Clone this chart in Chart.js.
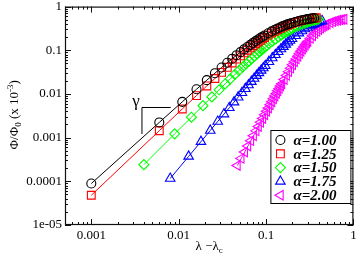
<!DOCTYPE html>
<html>
<head>
<meta charset="utf-8">
<script src="https://cdn.jsdelivr.net/npm/chart.js"></script>
<style>
  html, body { margin: 0; padding: 0; background: #fff; }
  canvas { display: block; }
</style>
</head>
<body>
<canvas id="myChart" width="360" height="256"></canvas>
<script>
const seriesNames = ["α=1.00", "α=1.25", "α=1.50", "α=1.75", "α=2.00"];

// alpha = 1.00
const xAlpha100 = [0.001, 0.006, 0.011, 0.016, 0.021, 0.026, 0.031, 0.036, 0.041, 0.046, 0.051, 0.056, 0.061, 0.066, 0.071, 0.076, 0.081, 0.086, 0.091, 0.096,
  0.106, 0.116, 0.126, 0.136, 0.146, 0.156, 0.166, 0.176, 0.186, 0.196, 0.216, 0.236, 0.256, 0.276, 0.296, 0.316, 0.336, 0.356];
const yAlpha100 = [8.9e-5, 2.23e-3, 6.6e-3, 0.0128, 0.0207, 0.0299, 0.0404, 0.0518, 0.0642, 0.0772, 0.0907, 0.1047, 0.1189, 0.1333, 0.1478, 0.1622, 0.1766, 0.1908, 0.2048, 0.2185,
  0.2451, 0.2704, 0.2941, 0.3164, 0.3371, 0.3564, 0.3743, 0.3908, 0.4061, 0.4204, 0.4456, 0.4673, 0.4859, 0.5019, 0.5158, 0.5279, 0.5385, 0.5478];

// alpha = 1.25
const xAlpha125 = [0.001, 0.006, 0.011, 0.016, 0.021, 0.026, 0.031, 0.036, 0.041, 0.046, 0.051, 0.056, 0.061, 0.066, 0.071, 0.076, 0.081, 0.086, 0.091, 0.096,
  0.106, 0.116, 0.126, 0.136, 0.146, 0.156, 0.166, 0.176, 0.186, 0.196, 0.216, 0.236, 0.256, 0.276, 0.296, 0.316, 0.336, 0.356, 0.376];
const yAlpha125 = [4.8e-5, 1.44e-3, 4.54e-3, 9.18e-3, 0.01525, 0.02261, 0.03115, 0.04075, 0.05127, 0.06259, 0.0746, 0.08716, 0.1002, 0.1135, 0.1271, 0.1409, 0.1547, 0.1685, 0.1822, 0.1958,
  0.2225, 0.2482, 0.2727, 0.2959, 0.3178, 0.3382, 0.3573, 0.3751, 0.3915, 0.4069, 0.4343, 0.4578, 0.478, 0.4955, 0.5106, 0.5237, 0.5352, 0.5452, 0.554];

// alpha = 1.50
const xAlpha150 = [0.004, 0.009, 0.014, 0.019, 0.024, 0.029, 0.034, 0.039, 0.044, 0.049, 0.054, 0.059, 0.064, 0.069, 0.074, 0.079, 0.084, 0.089, 0.094, 0.099,
  0.109, 0.119, 0.129, 0.139, 0.149, 0.159, 0.169, 0.179, 0.189, 0.199, 0.219, 0.239, 0.259, 0.279, 0.299, 0.319, 0.339, 0.359, 0.379, 0.399];
const yAlpha150 = [2.41e-4, 1.22e-3, 2.94e-3, 5.4e-3, 8.57e-3, 0.01244, 0.01698, 0.02215, 0.02794, 0.0343, 0.04119, 0.04857, 0.05641, 0.06466, 0.07327, 0.08221, 0.09144, 0.1009, 0.1106, 0.1204,
  0.1405, 0.1607, 0.181, 0.2012, 0.221, 0.2403, 0.2591, 0.2771, 0.2946, 0.3112, 0.3423, 0.3705, 0.3957, 0.4184, 0.4386, 0.4566, 0.4727, 0.4871, 0.5, 0.5115];

// alpha = 1.75
const xAlpha175 = [0.008, 0.013, 0.018, 0.023, 0.028, 0.033, 0.038, 0.043, 0.048, 0.053, 0.058, 0.063, 0.068, 0.073, 0.078, 0.083, 0.088, 0.093, 0.098,
  0.108, 0.118, 0.128, 0.138, 0.148, 0.158, 0.168, 0.178, 0.188, 0.198, 0.218, 0.238, 0.258, 0.278, 0.298, 0.318, 0.338, 0.358, 0.378, 0.398, 0.418, 0.438];
const yAlpha175 = [1.16e-4, 3.72e-4, 8.11e-4, 1.46e-3, 2.34e-3, 3.46e-3, 4.84e-3, 6.5e-3, 8.43e-3, 0.01066, 0.01319, 0.01601, 0.01914, 0.02256, 0.0263, 0.03033, 0.03466, 0.03928, 0.04419,
  0.0548, 0.06647, 0.07905, 0.09247, 0.1066, 0.1213, 0.1365, 0.1521, 0.1679, 0.1839, 0.2158, 0.2471, 0.2774, 0.3062, 0.3333, 0.3585, 0.3818, 0.4032, 0.4229, 0.4408, 0.4571, 0.472];

// alpha = 2.00
const xAlpha200 = [0.047, 0.052, 0.057, 0.062, 0.067, 0.072, 0.077, 0.082, 0.087, 0.092, 0.097, 0.102, 0.107, 0.112, 0.117, 0.122, 0.127, 0.132, 0.137, 0.142, 0.147, 0.152,
  0.162, 0.172, 0.182, 0.192, 0.202, 0.212, 0.222, 0.232, 0.242, 0.252, 0.262, 0.272, 0.282, 0.292, 0.302,
  0.322, 0.342, 0.362, 0.382, 0.402, 0.422, 0.442, 0.462, 0.482, 0.502, 0.542, 0.582, 0.622, 0.662, 0.702, 0.742, 0.782];
const yAlpha200 = [2.3e-4, 3.35e-4, 4.7e-4, 6.41e-4, 8.53e-4, 1.11e-3, 1.43e-3, 1.8e-3, 2.24e-3, 2.75e-3, 3.34e-3, 4.01e-3, 4.78e-3, 5.66e-3, 6.64e-3, 7.73e-3, 8.95e-3, 0.0103, 0.01179, 0.01342, 0.0152, 0.01714,
  0.02152, 0.0266, 0.03242, 0.03901, 0.0464, 0.05458, 0.06355, 0.0733, 0.08381, 0.09501, 0.1068, 0.1193, 0.1323, 0.1457, 0.1594,
  0.1875, 0.2159, 0.244, 0.2713, 0.2972, 0.3215, 0.344, 0.3646, 0.3834, 0.4003, 0.4292, 0.4522, 0.4704, 0.4849, 0.4963, 0.5055, 0.5128];

const xMajorTicks = [0.001, 0.01, 0.1, 1];
const xTickLabels = ["0.001", "0.01", "0.1", "1"];
const yMajorTicks = [0.00001, 0.0001, 0.001, 0.01, 0.1, 1];
const yTickLabels = ["1e-05", "0.0001", "0.001", "0.01", "0.1", "1"];

const fontFamily = "'Liberation Serif', 'Times New Roman', serif";
const seriesColors = ["#000000", "#ff0000", "#00ff00", "#0000ff", "#ff00ff"];
const seriesMarkers = ["circle", "rect", "rectRot", "triangle", "triangle"];
const seriesRotation = [0, 0, 0, 0, -90];
const seriesRadius = [4.5, 5.5, 5, 5.5, 5.5];

const buildPoints = (xs, ys) => xs.map((x, i) => ({ x: x, y: ys[i] }));
const seriesData = [
  buildPoints(xAlpha100, yAlpha100),
  buildPoints(xAlpha125, yAlpha125),
  buildPoints(xAlpha150, yAlpha150),
  buildPoints(xAlpha175, yAlpha175),
  buildPoints(xAlpha200, yAlpha200),
];

const sameDecade = (a, b) => Math.abs(Math.log10(a) - Math.log10(b)) < 1e-6;

const labelFor = (majors, labels) => (value) => {
  const i = majors.findIndex((t) => sameDecade(t, value));
  return i >= 0 ? labels[i] : "";
};

// 1..9 x 10^n ticks between the scale limits
const logTickBuilder = (scale) => {
  const ticks = [];
  const lo = Math.floor(Math.log10(scale.min) + 1e-9);
  const hi = Math.ceil(Math.log10(scale.max) - 1e-9);
  for (let e = lo; e <= hi; e++) {
    for (let m = 1; m <= 9; m++) {
      const v = m * Math.pow(10, e);
      if (v >= scale.min * (1 - 1e-9) && v <= scale.max * (1 + 1e-9)) {
        ticks.push({ value: v, major: m === 1 });
      }
    }
  }
  scale.ticks = ticks;
};

const drawMarker = (ctx, style, x, y, r, rotation) => {
  ctx.beginPath();
  if (style === "circle") {
    ctx.arc(x, y, r, 0, Math.PI * 2);
  } else if (style === "rect") {
    const s = r * Math.SQRT1_2;
    ctx.rect(x - s, y - s, 2 * s, 2 * s);
  } else if (style === "rectRot") {
    ctx.moveTo(x - r, y);
    ctx.lineTo(x, y - r);
    ctx.lineTo(x + r, y);
    ctx.lineTo(x, y + r);
    ctx.closePath();
  } else {
    let rad = (rotation * Math.PI) / 180;
    ctx.moveTo(x + Math.sin(rad) * r, y - Math.cos(rad) * r);
    rad += (2 * Math.PI) / 3;
    ctx.lineTo(x + Math.sin(rad) * r, y - Math.cos(rad) * r);
    rad += (2 * Math.PI) / 3;
    ctx.lineTo(x + Math.sin(rad) * r, y - Math.cos(rad) * r);
    ctx.closePath();
  }
  ctx.stroke();
};

const frameAndTicks = {
  id: "frameAndTicks",
  beforeDatasetsDraw(chart) {
    const { ctx, chartArea: a, scales } = chart;
    ctx.save();
    ctx.strokeStyle = "#111";
    ctx.lineWidth = 1;
    ctx.beginPath();
    scales.x.ticks.forEach((t) => {
      const px = Math.round(scales.x.getPixelForValue(t.value)) + 0.5;
      const len = t.major ? 6 : 3;
      ctx.moveTo(px, a.bottom);
      ctx.lineTo(px, a.bottom - len);
      ctx.moveTo(px, a.top);
      ctx.lineTo(px, a.top + len);
    });
    scales.y.ticks.forEach((t) => {
      const py = Math.round(scales.y.getPixelForValue(t.value)) + 0.5;
      const len = t.major ? 6 : 3;
      ctx.moveTo(a.left, py);
      ctx.lineTo(a.left + len, py);
      ctx.moveTo(a.right, py);
      ctx.lineTo(a.right - len, py);
    });
    ctx.stroke();
    ctx.lineWidth = 1.2;
    ctx.strokeRect(a.left + 0.5, a.top + 0.5, a.right - a.left - 1, a.bottom - a.top - 1);
    ctx.restore();
  },
};

const annotations = {
  id: "annotations",
  afterDatasetsDraw(chart) {
    const { ctx, scales } = chart;
    const x = scales.x, y = scales.y;
    ctx.save();
    ctx.strokeStyle = "#000";
    ctx.lineWidth = 1;
    ctx.beginPath();
    ctx.moveTo(x.getPixelForValue(0.0038), y.getPixelForValue(0.00121));
    ctx.lineTo(x.getPixelForValue(0.0038), y.getPixelForValue(0.0049));
    ctx.lineTo(x.getPixelForValue(0.0081), y.getPixelForValue(0.0049));
    ctx.stroke();
    ctx.fillStyle = "#000";
    ctx.font = `17px ${fontFamily}`;
    ctx.textAlign = "center";
    ctx.textBaseline = "middle";
    ctx.fillText("γ", x.getPixelForValue(0.00325), y.getPixelForValue(0.0067));
    ctx.restore();
  },
};

const titlesAndLegend = {
  id: "titlesAndLegend",
  afterDraw(chart) {
    const { ctx, chartArea: a } = chart;
    ctx.save();
    ctx.fillStyle = "#000";
    ctx.textBaseline = "alphabetic";

    // x title: λ −λc
    ctx.font = `13px ${fontFamily}`;
    const main = "λ −λ";
    ctx.font = `13px ${fontFamily}`;
    const wMain = ctx.measureText(main).width;
    ctx.font = `9px ${fontFamily}`;
    const wSub = ctx.measureText("c").width;
    let xs = (a.left + a.right) / 2 - (wMain + wSub) / 2;
    ctx.font = `13px ${fontFamily}`;
    ctx.textAlign = "left";
    ctx.fillText(main, xs, 250);
    ctx.font = `9px ${fontFamily}`;
    ctx.fillText("c", xs + wMain, 253);

    // y title: Φ/Φ0 (x 10^-3)
    const parts = [
      { t: "Φ/Φ", s: 13, dy: 0 },
      { t: "0", s: 9, dy: 3 },
      { t: " (x 10", s: 13, dy: 0 },
      { t: "-3", s: 9, dy: -5 },
      { t: ")", s: 13, dy: 0 },
    ];
    let total = 0;
    parts.forEach((p) => {
      ctx.font = `${p.s}px ${fontFamily}`;
      p.w = ctx.measureText(p.t).width;
      total += p.w;
    });
    ctx.translate(13, (a.top + a.bottom) / 2 - 1);
    ctx.rotate(-Math.PI / 2);
    let cx = -total / 2;
    parts.forEach((p) => {
      ctx.font = `${p.s}px ${fontFamily}`;
      ctx.fillText(p.t, cx, 4.5 + p.dy);
      cx += p.w;
    });
    ctx.setTransform(1, 0, 0, 1, 0, 0);

    // legend
    const boxRight = a.right - 3;
    const boxBottom = a.bottom - 22;
    const boxW = 80, boxH = 73;
    const left = boxRight - boxW, top = boxBottom - boxH;
    ctx.fillStyle = "#fff";
    ctx.fillRect(left, top, boxW, boxH);
    ctx.strokeStyle = "#000";
    ctx.lineWidth = 1;
    ctx.strokeRect(left + 0.5, top + 0.5, boxW, boxH);
    ctx.font = `italic bold 15px ${fontFamily}`;
    ctx.textAlign = "left";
    ctx.textBaseline = "middle";
    seriesNames.forEach((name, i) => {
      const rowY = top + 10 + i * 13.8;
      ctx.strokeStyle = seriesColors[i];
      ctx.lineWidth = 1.1;
      drawMarker(ctx, seriesMarkers[i], left + 10, rowY, seriesRadius[i], seriesRotation[i]);
      ctx.fillStyle = "#000";
      ctx.fillText(name, left + 23, rowY + 1);
    });
    ctx.restore();
  },
};

const datasets = seriesData.map((data, i) => ({
  label: seriesNames[i],
  data: data,
  showLine: true,
  borderColor: seriesColors[i],
  borderWidth: 1,
  backgroundColor: "rgba(0,0,0,0)",
  pointStyle: seriesMarkers[i],
  pointRotation: seriesRotation[i],
  pointRadius: seriesRadius[i],
  pointBorderColor: seriesColors[i],
  pointBackgroundColor: "rgba(0,0,0,0)",
  pointBorderWidth: 1.1,
  tension: 0,
  fill: false,
}));

const tickFont = { family: fontFamily, size: 13 };

const myChart = new Chart(document.getElementById("myChart"), {
  type: "scatter",
  data: { datasets: datasets },
  options: {
    responsive: false,
    animation: false,
    devicePixelRatio: 1,
    layout: { padding: { top: 4, right: 5, left: 0, bottom: 0 } },
    plugins: { legend: { display: false }, tooltip: { enabled: false } },
    scales: {
      x: {
        type: "logarithmic",
        min: 0.0005,
        max: 1,
        grid: { display: false, drawTicks: false },
        border: { display: false },
        afterBuildTicks: logTickBuilder,
        afterFit: (scale) => {
          scale.height = 31;
          scale.paddingLeft = 0;
          scale.paddingRight = 0;
        },
        ticks: {
          autoSkip: false,
          maxRotation: 0,
          padding: 3,
          color: "#000",
          font: tickFont,
          callback: labelFor(xMajorTicks, xTickLabels),
        },
      },
      y: {
        type: "logarithmic",
        min: 0.00001,
        max: 1,
        grid: { display: false, drawTicks: false },
        border: { display: false },
        afterBuildTicks: logTickBuilder,
        afterFit: (scale) => {
          scale.width = 65;
          scale.paddingTop = 0;
          scale.paddingBottom = 0;
        },
        ticks: {
          autoSkip: false,
          padding: 3,
          color: "#000",
          font: tickFont,
          callback: labelFor(yMajorTicks, yTickLabels),
        },
      },
    },
  },
  plugins: [frameAndTicks, annotations, titlesAndLegend],
});
</script>
</body>
</html>
